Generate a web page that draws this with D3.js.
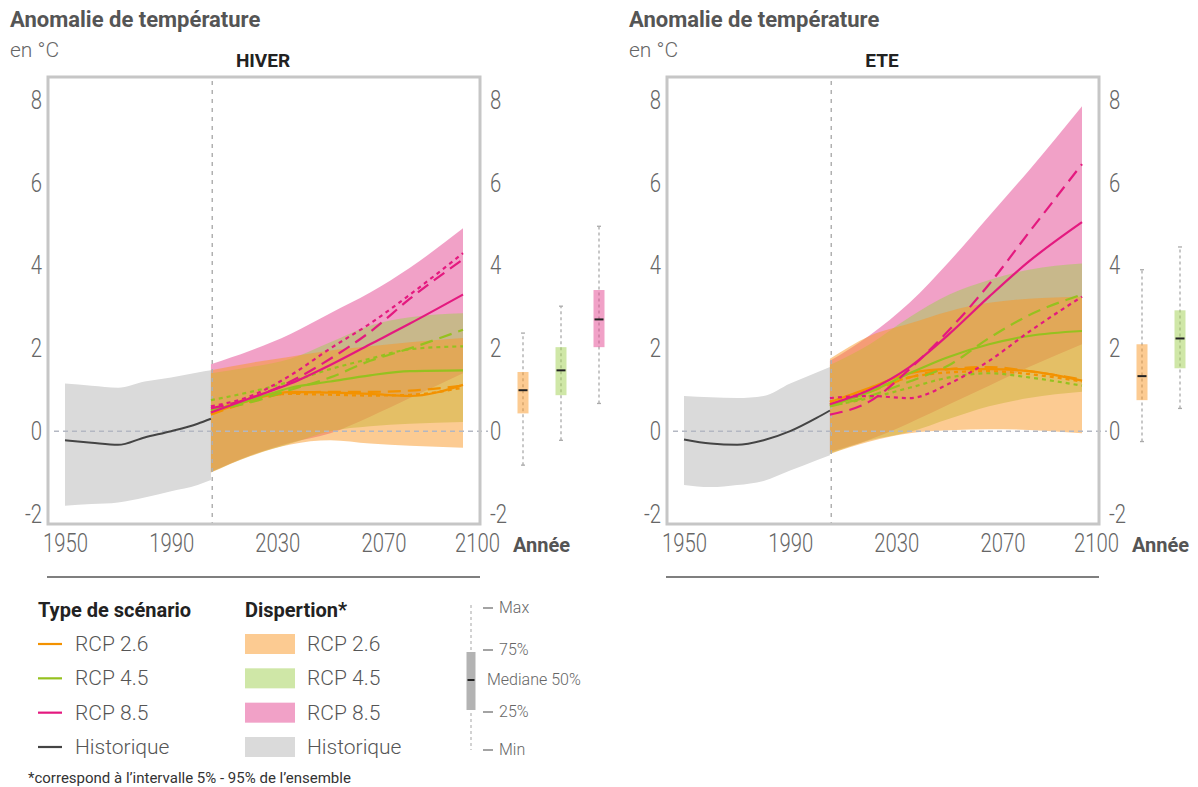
<!DOCTYPE html>
<html>
<head>
  <meta charset="utf-8">
  <script src="https://d3js.org/d3.v7.min.js"></script>
  <style>
    body { margin: 0; background: #fff; }
    text { font-family: Roboto, "DejaVu Sans Condensed", sans-serif; }
    .tick text { font-size: 26px; font-weight: 300; fill: #666; }
    .title { font-size: 22px; font-weight: bold; fill: #555; }
    .unit { font-size: 21px; font-weight: 300; fill: #666; }
    .season { font-size: 19px; font-weight: bold; fill: #222; }
    .annee { font-size: 20px; font-weight: bold; fill: #555; }
    .leg-head { font-size: 20px; font-weight: bold; fill: #222; }
    .leg-text { font-size: 21px; font-weight: 300; fill: #555; }
    .box-text { font-size: 16px; font-weight: 300; fill: #666; }
    .note { font-size: 15px; fill: #333; }
  </style>
</head>
<body>
  <svg width="1198" height="787"></svg>
  <script>
    // ---- data ----
    var scenarios = ["RCP 2.6", "RCP 4.5", "RCP 8.5"];
    var histYears = [1950, 1960, 1970, 1980, 1990, 2000, 2005];
    var futureYears = [2005, 2020, 2035, 2050, 2065, 2080, 2100];
    var yTicks = [-2, 0, 2, 4, 6, 8];
    var xTicks = [1950, 1990, 2030, 2070, 2100];

    // HIVER
    var hiverHistMean = [-0.22, -0.28, -0.33, -0.15, 0.0, 0.18, 0.3];
    var hiverHistLow = [-1.8, -1.76, -1.72, -1.6, -1.45, -1.3, -1.18];
    var hiverHistHigh = [1.15, 1.1, 1.05, 1.2, 1.3, 1.42, 1.47];
    var hiverBandLow = {
      "RCP 2.6": [-1.0, -0.6, -0.32, -0.22, -0.3, -0.35, -0.4],
      "RCP 4.5": [-0.99, -0.59, -0.3, 0.0, 0.12, 0.18, 0.22],
      "RCP 8.5": [-0.98, -0.58, -0.28, -0.05, 0.35, 0.8, 1.4]
    };
    var hiverBandHigh = {
      "RCP 2.6": [1.47, 1.65, 1.8, 1.95, 2.05, 2.15, 2.25],
      "RCP 4.5": [1.4, 1.55, 1.75, 2.15, 2.55, 2.75, 2.85],
      "RCP 8.5": [1.62, 1.95, 2.35, 2.85, 3.35, 3.95, 4.9]
    };
    var hiverSolid = {
      "RCP 2.6": [0.42, 0.75, 0.95, 0.93, 0.9, 0.85, 1.12],
      "RCP 4.5": [0.5, 0.75, 1.05, 1.2, 1.35, 1.45, 1.47],
      "RCP 8.5": [0.45, 0.8, 1.15, 1.6, 2.1, 2.6, 3.3]
    };
    var hiverDashed = {
      "RCP 2.6": [0.4, 0.72, 0.92, 0.95, 0.95, 0.98, 1.1],
      "RCP 4.5": [0.5, 0.7, 1.0, 1.3, 1.7, 2.0, 2.45],
      "RCP 8.5": [0.55, 0.8, 1.2, 1.75, 2.4, 3.2, 4.15]
    };
    var hiverDotted = {
      "RCP 2.6": [0.45, 0.8, 0.9, 0.88, 0.86, 0.88, 1.05],
      "RCP 4.5": [0.75, 0.95, 1.2, 1.5, 1.75, 1.98, 2.05],
      "RCP 8.5": [0.6, 0.85, 1.35, 2.0, 2.6, 3.3, 4.3]
    };
    // min, q1, median, q3, max
    var hiverBoxes = {
      "RCP 2.6": [-0.82, 0.43, 0.99, 1.43, 2.37],
      "RCP 4.5": [-0.22, 0.87, 1.47, 2.03, 3.02],
      "RCP 8.5": [0.67, 2.03, 2.7, 3.41, 4.95]
    };

    // ETE
    var eteHistMean = [-0.2, -0.3, -0.33, -0.22, 0.0, 0.32, 0.5];
    var eteHistLow = [-1.3, -1.35, -1.3, -1.2, -0.95, -0.7, -0.58];
    var eteHistHigh = [0.85, 0.82, 0.8, 0.85, 1.15, 1.42, 1.55];
    var eteBandLow = {
      "RCP 2.6": [-0.55, -0.25, -0.05, 0.02, 0.05, 0.03, -0.05],
      "RCP 4.5": [-0.54, -0.22, -0.02, 0.3, 0.6, 0.8, 0.95],
      "RCP 8.5": [-0.5, -0.2, 0.2, 0.65, 1.1, 1.55, 2.1]
    };
    var eteBandHigh = {
      "RCP 2.6": [1.75, 2.3, 2.6, 2.9, 3.1, 3.2, 3.25],
      "RCP 4.5": [1.6, 2.1, 2.75, 3.3, 3.65, 3.9, 4.05],
      "RCP 8.5": [1.7, 2.32, 3.1, 4.1, 5.2, 6.3, 7.85]
    };
    var eteSolid = {
      "RCP 2.6": [0.7, 1.05, 1.4, 1.5, 1.5, 1.45, 1.22],
      "RCP 4.5": [0.62, 0.95, 1.4, 1.8, 2.1, 2.3, 2.42],
      "RCP 8.5": [0.65, 1.0, 1.55, 2.35, 3.25, 4.1, 5.05]
    };
    var eteDashed = {
      "RCP 2.6": [0.65, 0.95, 1.3, 1.5, 1.55, 1.45, 1.25],
      "RCP 4.5": [0.6, 0.85, 1.2, 1.6, 2.25, 2.8, 3.3],
      "RCP 8.5": [0.4, 0.72, 1.5, 2.45, 3.55, 4.8, 6.45]
    };
    var eteDotted = {
      "RCP 2.6": [0.72, 1.0, 1.3, 1.42, 1.45, 1.38, 1.2],
      "RCP 4.5": [0.62, 0.8, 1.05, 1.3, 1.4, 1.3, 1.1],
      "RCP 8.5": [0.8, 0.85, 0.8, 1.15, 1.7, 2.4, 3.25]
    };
    var eteBoxes = {
      "RCP 2.6": [-0.25, 0.75, 1.33, 2.1, 3.9],
      "RCP 4.5": [0.55, 1.52, 2.24, 2.92, 4.45],
      "RCP 8.5": [1.5, 3.5, 4.5, 5.5, 7.8]
    };

    var lineColors = {"RCP 2.6": "#f39200", "RCP 4.5": "#95c11f", "RCP 8.5": "#e4197f"};
    var bandColors = {"RCP 2.6": "#f99725", "RCP 4.5": "#9fcf50", "RCP 8.5": "#e4438f"};
    var bandOpacity = 0.5;
    var histColor = "#444";
    var histBand = "#dadada";
    var styles = [
      {name: "solid", dash: null},
      {name: "dashed", dash: "13,7"},
      {name: "dotted", dash: "4,4"}
    ];

    var svg = d3.select("svg");
    var frame = {left: 48, right: 480, top: 77, bottom: 524};

    var x = d3.scaleLinear().domain([1950, 2100]).range([65, 463]);
    var y = d3.scaleLinear().domain([-2, 8]).range([514, 100]);
    var xBox = d3.scalePoint().domain(scenarios).range([523, 599]);

    function drawPanel(dx, season, d) {
      var g = svg.append("g").attr("transform", "translate(" + dx + ",0)");

      g.append("text").attr("class", "title").attr("x", 10).attr("y", 27).text("Anomalie de température");
      g.append("text").attr("class", "unit").attr("x", 10).attr("y", 57).text("en °C");
      g.append("text").attr("class", "season").attr("x", 263).attr("y", 67)
        .attr("text-anchor", "middle").text(season);

      // historic band
      var hist = histYears.map((yr, i) => ({yr: yr, m: d.histMean[i], lo: d.histLow[i], hi: d.histHigh[i]}));
      g.append("path").datum(hist)
        .attr("fill", histBand)
        .attr("d", d3.area().curve(d3.curveMonotoneX).x(p => x(p.yr)).y0(p => y(p.lo)).y1(p => y(p.hi)));

      // scenario bands
      ["RCP 8.5", "RCP 4.5", "RCP 2.6"].forEach(function(s) {
        var pts = futureYears.map((yr, i) => ({yr: yr, lo: d.bandLow[s][i], hi: d.bandHigh[s][i]}));
        g.append("path").datum(pts)
          .attr("fill", bandColors[s]).attr("fill-opacity", bandOpacity)
          .attr("d", d3.area().curve(d3.curveMonotoneX).x(p => x(p.yr)).y0(p => y(p.lo)).y1(p => y(p.hi)));
      });

      // reference lines
      g.append("line")
        .attr("x1", frame.left + 6).attr("x2", frame.right + 8)
        .attr("y1", y(0)).attr("y2", y(0))
        .attr("stroke", "#b3b7c2").attr("stroke-width", 1.5).attr("stroke-dasharray", "5,4");
      g.append("line")
        .attr("x1", x(2005.5)).attr("x2", x(2005.5))
        .attr("y1", frame.top + 4).attr("y2", frame.bottom)
        .attr("stroke", "#b0b0b0").attr("stroke-width", 1.5).attr("stroke-dasharray", "4,5");

      var line = d3.line().curve(d3.curveMonotoneX).x(p => x(p[0])).y(p => y(p[1]));

      // historic line
      g.append("path").datum(hist.map(p => [p.yr, p.m]))
        .attr("fill", "none").attr("stroke", histColor).attr("stroke-width", 2)
        .attr("d", line);

      // scenario lines
      scenarios.forEach(function(s) {
        styles.forEach(function(st) {
          var vals = d[st.name][s];
          g.append("path").datum(futureYears.map((yr, i) => [yr, vals[i]]))
            .attr("fill", "none")
            .attr("stroke", lineColors[s])
            .attr("stroke-width", 2.2)
            .attr("stroke-dasharray", st.dash)
            .attr("d", line);
        });
      });

      // frame
      g.append("rect")
        .attr("x", frame.left).attr("y", frame.top)
        .attr("width", frame.right - frame.left).attr("height", frame.bottom - frame.top)
        .attr("fill", "none").attr("stroke", "#c6c6c6").attr("stroke-width", 3);

      // axes
      var fmt = v => String(v);
      var ya = g.append("g").attr("transform", "translate(" + frame.left + ",0)")
        .call(d3.axisLeft(y).tickValues(yTicks).tickFormat(fmt).tickSize(0).tickPadding(6));
      var yb = g.append("g").attr("transform", "translate(" + frame.right + ",0)")
        .call(d3.axisRight(y).tickValues(yTicks).tickFormat(fmt).tickSize(0).tickPadding(10));
      var xa = g.append("g").attr("transform", "translate(0," + frame.bottom + ")")
        .call(d3.axisBottom(x).tickValues(xTicks).tickFormat(fmt).tickSize(0).tickPadding(10));
      [ya, yb, xa].forEach(a => { a.select(".domain").remove(); a.selectAll("text").attr("font-family", null).attr("font-size", null); });
      xa.selectAll(".tick").filter(v => v === 2100).select("text").attr("dx", 14);

      g.append("text").attr("class", "annee").attr("x", 513).attr("y", 552).text("Année");

      g.append("line")
        .attr("x1", frame.left - 1).attr("x2", frame.right)
        .attr("y1", 577).attr("y2", 577)
        .attr("stroke", "#555").attr("stroke-width", 1.5);

      // box plots
      scenarios.forEach(function(s) {
        var b = d.boxes[s], cx = xBox(s);
        g.append("line").attr("x1", cx).attr("x2", cx).attr("y1", y(b[0])).attr("y2", y(b[4]))
          .attr("stroke", "#aaa").attr("stroke-width", 1.3).attr("stroke-dasharray", "3,3");
        [b[0], b[4]].forEach(v => g.append("line")
          .attr("x1", cx - 2).attr("x2", cx + 2).attr("y1", y(v)).attr("y2", y(v))
          .attr("stroke", "#aaa").attr("stroke-width", 1.3));
        g.append("rect").attr("x", cx - 5.5).attr("width", 11)
          .attr("y", y(b[3])).attr("height", y(b[1]) - y(b[3]))
          .attr("fill", bandColors[s]).attr("fill-opacity", bandOpacity);
        g.append("line").attr("x1", cx - 4.5).attr("x2", cx + 4.5).attr("y1", y(b[2])).attr("y2", y(b[2]))
          .attr("stroke", "#222").attr("stroke-width", 2);
      });
    }

    drawPanel(0, "HIVER", {
      histMean: hiverHistMean, histLow: hiverHistLow, histHigh: hiverHistHigh,
      bandLow: hiverBandLow, bandHigh: hiverBandHigh,
      solid: hiverSolid, dashed: hiverDashed, dotted: hiverDotted, boxes: hiverBoxes
    });
    drawPanel(619, "ETE", {
      histMean: eteHistMean, histLow: eteHistLow, histHigh: eteHistHigh,
      bandLow: eteBandLow, bandHigh: eteBandHigh,
      solid: eteSolid, dashed: eteDashed, dotted: eteDotted, boxes: eteBoxes
    });

    // ---- legend ----
    var leg = svg.append("g");
    var rowY = d3.scalePoint().domain(scenarios.concat(["Historique"])).range([644, 747]);

    leg.append("text").attr("class", "leg-head").attr("x", 38).attr("y", 617).text("Type de scénario");
    leg.append("text").attr("class", "leg-head").attr("x", 245).attr("y", 617).text("Dispertion*");

    rowY.domain().forEach(function(k) {
      var yy = rowY(k);
      leg.append("line").attr("x1", 38).attr("x2", 62).attr("y1", yy).attr("y2", yy)
        .attr("stroke", k === "Historique" ? histColor : lineColors[k]).attr("stroke-width", 2.2);
      leg.append("text").attr("class", "leg-text").attr("x", 75).attr("y", yy + 7).text(k);
      leg.append("rect").attr("x", 245).attr("y", yy - 10).attr("width", 50).attr("height", 20)
        .attr("fill", k === "Historique" ? histBand : bandColors[k])
        .attr("fill-opacity", k === "Historique" ? 1 : bandOpacity);
      leg.append("text").attr("class", "leg-text").attr("x", 307).attr("y", yy + 7).text(k);
    });

    // box legend
    var bx = 471;
    leg.append("line").attr("x1", bx).attr("x2", bx).attr("y1", 605).attr("y2", 750)
      .attr("stroke", "#bbb").attr("stroke-width", 1.3).attr("stroke-dasharray", "3,3");
    leg.append("rect").attr("x", bx - 4.5).attr("y", 652).attr("width", 9).attr("height", 58).attr("fill", "#b3b3b3");
    leg.append("line").attr("x1", bx - 3.5).attr("x2", bx + 3.5).attr("y1", 680).attr("y2", 680)
      .attr("stroke", "#222").attr("stroke-width", 2);
    [["Max", 608], ["75%", 650], ["25%", 712], ["Min", 750]].forEach(function(p) {
      leg.append("line").attr("x1", bx + 12).attr("x2", bx + 22).attr("y1", p[1]).attr("y2", p[1])
        .attr("stroke", "#666").attr("stroke-width", 1.2);
      leg.append("text").attr("class", "box-text").attr("x", bx + 28).attr("y", p[1] + 5).text(p[0]);
    });
    leg.append("text").attr("class", "box-text").attr("x", bx + 16).attr("y", 685).text("Mediane 50%");

    leg.append("text").attr("class", "note").attr("x", 28).attr("y", 783)
      .text("*correspond à l\u2019intervalle 5% - 95% de l\u2019ensemble");

    // the tick figures are a narrow face in the original: squeeze them
    svg.selectAll(".tick text").each(function() {
      var w = this.getComputedTextLength();
      d3.select(this).attr("textLength", w * 0.78).attr("lengthAdjust", "spacingAndGlyphs");
    });
  </script>
</body>
</html>
